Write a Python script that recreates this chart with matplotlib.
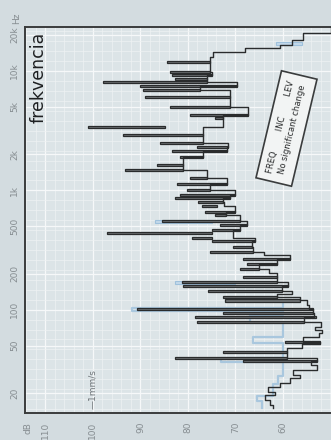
import numpy as np
import matplotlib
matplotlib.use('Agg')
import matplotlib.pyplot as plt
from matplotlib import ticker

# ---------------- data ----------------
# main trace baseline: level (dB) from each frequency (Hz) to the next
base_hz = [15.0, 15.8, 17.5, 19.2, 20.4, 22.4, 24.2, 26.7, 28.3, 31.2, 34.4, 37.1, 39.3,
           44.1, 47.7, 51.5, 53.5, 58.9, 63.7, 67.5, 71.5, 78.7, 86.7, 93.7, 101, 109,
           120, 128, 135, 143, 158, 170, 188, 203, 219, 241, 266, 287, 304, 335, 376,
           398, 439, 465, 512, 553, 621, 658, 739, 798, 863, 914, 1007, 1130, 1268,
           1483, 1630, 1903, 2138, 2309, 2496, 2914, 3400, 4040, 4285, 4995, 6052,
           6933, 7487, 8090, 8570, 9270, 9820, 11900, 13100, 14430, 15600, 16520,
           18200, 20830, 24000]
base_db = [62.0, 62.7, 63.8, 61.7, 63.2, 60.6, 58.5, 56.4, 57.9, 52.8, 54.0, 52.8, 59.2,
           59.2, 56.0, 52.2, 55.8, 52.5, 51.8, 53.2, 52.0, 55.5, 53.5, 53.7, 54.5, 55.0,
           56.4, 61.3, 58.0, 60.2, 58.9, 61.3, 61.3, 63.0, 65.0, 61.3, 58.5, 64.0, 66.3,
           66.5, 65.9, 70.5, 70.5, 69.1, 67.6, 69.1, 72.0, 70.1, 72.5, 72.6, 71.2, 70.1,
           75.4, 71.8, 76.0, 81.0, 81.0, 76.8, 71.8, 71.6, 76.8, 76.8, 72.6, 72.6, 67.4,
           71.2, 71.2, 77.5, 69.7, 76.0, 76.0, 74.9, 75.4, 75.4, 74.7, 68.0, 60.6, 58.0,
           55.8, 49.9, 49.9]

# narrow peaks of the main trace
spike_hz = [37.1, 39.3, 44.1, 53.5, 78.7, 86.7, 93.7, 101, 120, 128, 143, 158, 170, 188,
            219, 241, 266, 304, 335, 376, 398, 439, 465, 512, 553, 621, 658, 739, 798,
            863, 914, 1007, 1130, 1268, 1483, 1630, 1903, 2138, 2309, 2496, 2914, 3400,
            4040, 4285, 4995, 6052, 6933, 7487, 8090, 8570, 9270, 9820, 11900]
spike_peak_db = [68.4, 82.7, 72.6, 59.6, 78.1, 78.5, 72.6, 90.7, 72.2, 72.6, 75.8, 81.1,
                 81.3, 68.4, 69.1, 67.6, 68.4, 75.4, 70.5, 74.9, 79.2, 97.1, 74.9, 73.3,
                 85.5, 74.3, 76.4, 77.0, 77.9, 82.7, 81.7, 80.2, 82.3, 79.5, 93.3, 86.5,
                 81.7, 83.4, 78.1, 85.9, 93.7, 101.1, 74.3, 79.6, 83.8, 89.1, 89.5, 90.1,
                 97.9, 82.7, 83.4, 83.8, 84.4]
spike_base_db = [52.8, 59.2, 59.2, 52.2, 55.5, 53.0, 53.7, 53.7, 56.4, 61.3, 60.2, 58.9,
                 61.3, 61.3, 65.0, 61.3, 58.5, 66.3, 66.5, 65.9, 74.9, 74.9, 69.1, 67.6,
                 69.1, 72.0, 70.1, 73.9, 72.6, 71.2, 70.1, 75.4, 71.8, 76.0, 81.0, 81.0,
                 76.8, 71.8, 71.6, 76.8, 76.8, 84.8, 72.6, 67.4, 71.2, 71.2, 77.5, 69.7,
                 76.0, 76.0, 74.9, 75.4, 75.4]

# second (light blue) trace, low-frequency part
blue_hz = [15.0, 17.0, 19.0, 21.0, 24.0, 28.0, 36.5, 39.0, 53.0, 59.0, 77.0, 90.0, 97.0,
           104.0, 115.0]
blue_db = [64.5, 65.5, 62.0, 62.0, 61.0, 60.0, 73.0, 60.0, 66.3, 60.0, 67.0, 60.0, 91.8,
           60.0, 60.0]
ghost_hz = [170, 553, 17000]
ghost_peak_db = [82.7, 87.0, 61.5]
ghost_base_db = [70.0, 75.0, 56.0]

db_ticks = [110, 100, 90, 80, 70, 60]
freq_ticks = [20, 50, 100, 200, 500, 1000, 2000, 5000, 10000, 20000]
freq_labels = ['20', '50', '100', '200', '500', '1k', '2k', '5k', '10k', '20k']

# ---------------- figure ----------------
W, H = 331, 440
fig = plt.figure(figsize=(W / 100, H / 100), dpi=100, facecolor='#d3dce0')
ax = fig.add_axes([25 / W, 27 / H, 315 / W, 386 / H])
ax.set_facecolor('#dce4e7')
ax.set_yscale('log')
ax.set_xlim(114.3, 48.0)
ax.set_ylim(13.6, 23400)

# grid
ax.xaxis.set_major_locator(ticker.FixedLocator(db_ticks))
ax.xaxis.set_minor_locator(ticker.MultipleLocator(2))
ax.yaxis.set_major_locator(ticker.FixedLocator(freq_ticks))
ax.yaxis.set_minor_locator(ticker.FixedLocator(10 ** np.arange(1.0, 4.45, 1 / 12)))
ax.yaxis.set_minor_formatter(ticker.NullFormatter())
ax.grid(which='major', color='#f6f8f9', lw=0.9)
ax.grid(which='minor', color='#eef2f3', lw=0.5)
ax.set_axisbelow(True)

ax.set_xticklabels([str(v) for v in db_ticks], rotation=90, fontsize=6.5, color='#868d91')
ax.set_yticklabels(freq_labels, rotation=90, fontsize=6.5, color='#868d91', va='center')
ax.tick_params(axis='both', which='both', length=0)
ax.tick_params(axis='x', pad=6)
ax.tick_params(axis='y', pad=4)

for s in ['left', 'top', 'bottom']:
    ax.spines[s].set_color('#3a3c3d')
    ax.spines[s].set_linewidth(1.4)
ax.spines['right'].set_visible(False)

def stair(hz, db):
    xs, ys = [], []
    for i in range(len(hz) - 1):
        xs += [db[i], db[i]]
        ys += [hz[i], hz[i + 1]]
    return xs, ys

# light blue trace
bx, by = stair(blue_hz, blue_db)
ax.plot(bx, by, color='#a9c7de', lw=1.6, zorder=2)
gh = np.array(ghost_hz, float)
ax.barh(gh / 1.03, np.array(ghost_peak_db) - np.array(ghost_base_db),
        height=gh * 1.03 - gh / 1.03, left=ghost_base_db, align='edge',
        color='#c4d9ea', edgecolor='#9fc1dc', lw=0.8, zorder=2)

# main trace
sh = np.array(spike_hz, float)
ax.barh(sh / 1.026, np.array(spike_peak_db) - np.array(spike_base_db),
        height=sh * 1.026 - sh / 1.026, left=spike_base_db, align='edge',
        color='#6f7274', edgecolor='#2a2c2d', lw=0.9, zorder=3)
mx, my = stair(base_hz, base_db)
ax.plot(mx, my, color='#2a2c2d', lw=1.0, zorder=4)

# texts
fig.text(39 / W, 1 - 123 / H, 'frekvencia', rotation=90, ha='center', va='bottom',
         fontsize=12.5, color='#1e2022')
fig.text(17 / W, 1 - 18 / H, 'Hz', rotation=90, ha='center', va='center',
         fontsize=6.5, color='#868d91')
fig.text(28 / W, 1 - 428 / H, 'dB', rotation=90, ha='center', va='center',
         fontsize=6.5, color='#868d91')
ax.text(100, 14.6, '—1mm/s', rotation=90, ha='center', va='bottom',
        fontsize=6.5, color='#6f7579', zorder=5)

ax.text(286.5 / W, 1 - 128.5 / H, 'FREQ        INC        LEV\nNo significant change',
        transform=fig.transFigure, rotation=76.6, rotation_mode='anchor',
        ha='center', va='center', fontsize=6, color='#2a2c2d', linespacing=1.5,
        bbox=dict(boxstyle='square,pad=0.9', facecolor='#f2f4f4', edgecolor='#3a3c3d', lw=1.2),
        zorder=6)

fig.savefig('out.png', dpi=100, facecolor=fig.get_facecolor())
